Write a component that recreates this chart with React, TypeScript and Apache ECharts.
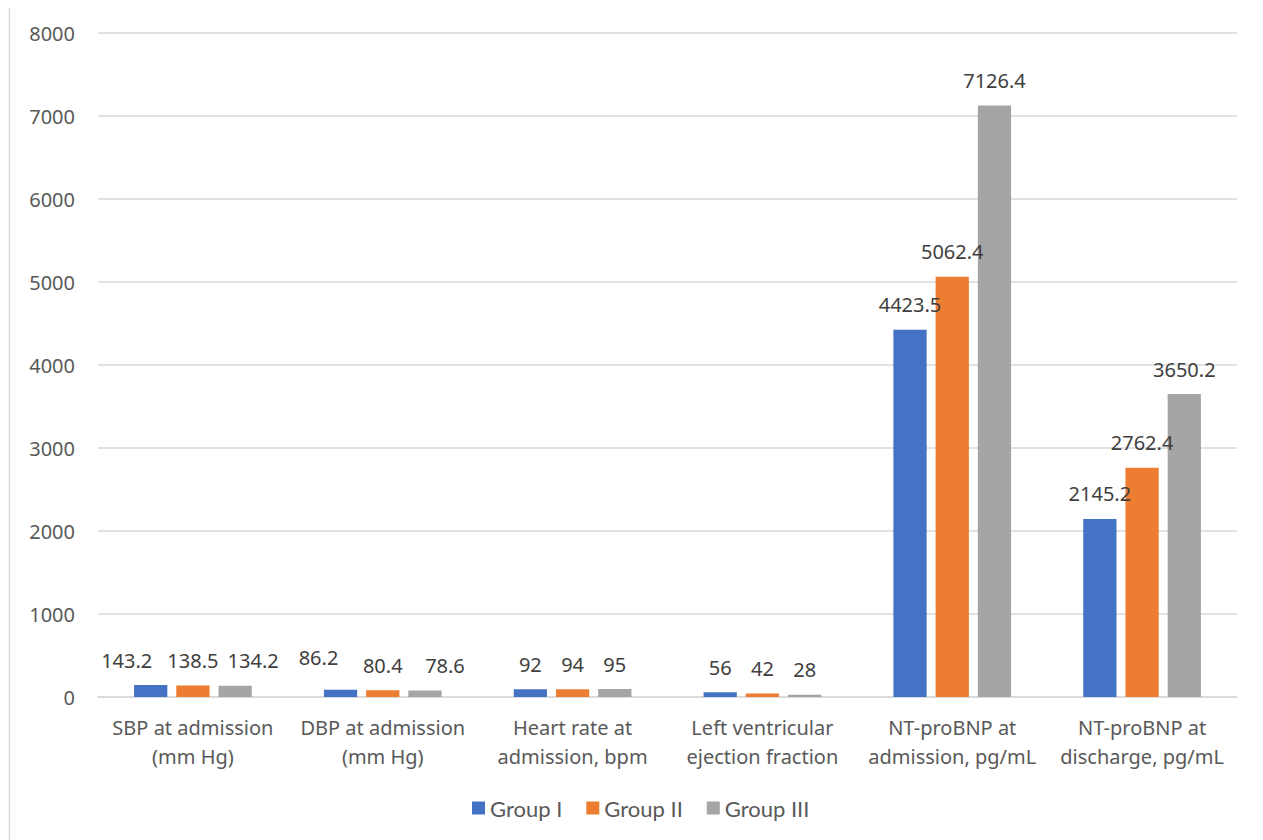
import React, { useEffect, useRef } from "react";
import * as echarts from "echarts";

const categories = [
  "SBP at admission\n(mm Hg)",
  "DBP at admission\n(mm Hg)",
  "Heart rate at\nadmission, bpm",
  "Left ventricular\nejection fraction",
  "NT-proBNP at\nadmission, pg/mL",
  "NT-proBNP at\ndischarge, pg/mL",
];
const groupI = [143.2, 86.2, 92, 56, 4423.5, 2145.2];
const groupII = [138.5, 80.4, 94, 42, 5062.4, 2762.4];
const groupIII = [134.2, 78.6, 95, 28, 7126.4, 3650.2];
const seriesNames = ["Group I", "Group II", "Group III"];
const colors = ["#4472C4", "#ED7D31", "#A5A5A5"];

// label nudges (x, y in px) per series per category, mimicking the reference's label placement
const labelNudges: number[][][] = [
  [[-24, 0], [-22, -7], [0, 0], [0, 0], [0, 0], [0, 0]],
  [[0, 0], [0, 0], [0, 0], [0, 0], [0, 0], [0, 0]],
  [[18, 0], [20, 0], [0, 0], [0, 0], [0, 0], [0, 0]],
];

const FONT = "Noto Sans";
const LEGEND_FONT = "Lato";

export default function App() {
  const ref = useRef<HTMLDivElement>(null);
  useEffect(() => {
    if (!ref.current) return;
    const chart = echarts.init(ref.current, null, { renderer: "svg" });
    const data = [groupI, groupII, groupIII];
    chart.setOption({
      animation: false,
      backgroundColor: "#fff",
      textStyle: { fontFamily: FONT },
      graphic: [
        {
          type: "rect",
          shape: { x: 9.5, y: 5.5, width: 1300, height: 900 },
          style: { fill: "none", stroke: "#d9d9d9", lineWidth: 1.5 },
          silent: true,
        },
      ],
      grid: { left: 98, right: 26, top: 33, bottom: 143 },
      legend: {
        top: 797,
        left: 472,
        padding: 0,
        itemWidth: 13,
        itemHeight: 13,
        itemGap: 24,
        icon: "rect",
        textStyle: {
          fontSize: 22,
          color: "#595959",
          fontFamily: LEGEND_FONT,
        },
        data: seriesNames,
      },
      xAxis: {
        type: "category",
        data: categories,
        axisLine: { lineStyle: { color: "#d9d9d9", width: 1.5 } },
        axisTick: { show: false },
        axisLabel: {
          color: "#595959",
          fontSize: 20,
          lineHeight: 29,
          margin: 16,
          interval: 0,
          fontFamily: FONT,
        },
      },
      yAxis: {
        type: "value",
        min: 0,
        max: 8000,
        interval: 1000,
        axisLine: { show: false },
        axisTick: { show: false },
        splitLine: { lineStyle: { color: "#d9d9d9", width: 1.5 } },
        axisLabel: {
          color: "#595959",
          fontSize: 20,
          margin: 23,
          fontFamily: FONT,
          formatter: (v: number) => String(v),
        },
      },
      series: data.map((d, i) => ({
        name: seriesNames[i],
        type: "bar",
        data: d.map((v, j) => ({
          value: v,
          label: { offset: labelNudges[i][j] },
        })),
        barGap: "27%",
        barCategoryGap: "38%",
        itemStyle: { color: colors[i] },
        label: {
          show: true,
          position: "top",
          distance: 15,
          color: "#404040",
          fontSize: 20,
          fontFamily: FONT,
        },
      })),
    });
    return () => chart.dispose();
  }, []);
  return (
    <div
      ref={ref}
      style={{
        width: 1263,
        height: 840,
        margin: "-8px 0 0 -8px",
        fontFamily: "'Noto Sans', sans-serif",
      }}
    />
  );
}
